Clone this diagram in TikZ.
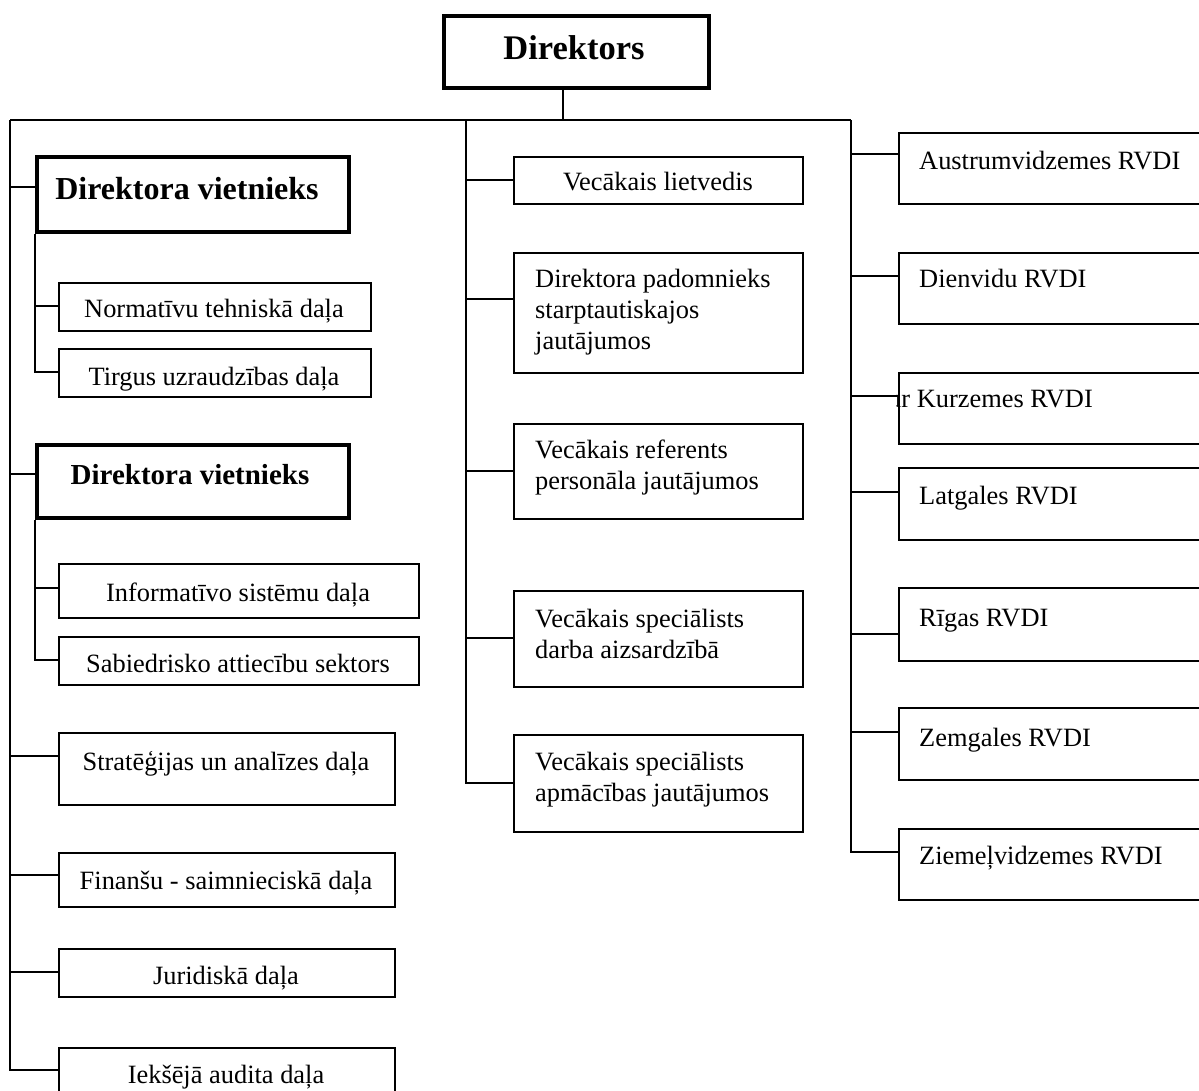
\documentclass[tikz,border=0pt]{standalone}
\usepackage{fontspec}
\setmainfont{Liberation Serif}
\begin{document}
\begin{tikzpicture}[x=1pt,y=-1pt,
  box/.style={draw, rectangle, line width=2pt, inner sep=0pt, anchor=north west},
  thickbox/.style={draw, rectangle, line width=3.5pt, inner sep=0pt, anchor=north west},
  conn/.style={line width=2pt},
  txt/.style={inner sep=0pt, font=\fontsize{26.4pt}{31pt}\selectfont},
  mtxt/.style={txt, align=left, anchor=base west},
  ctxt/.style={txt, anchor=base},
]
\useasboundingbox (0,0) rectangle (1199,1090);
\clip (0,0) rectangle (1199,1090);

% bus coordinates
\coordinate (L) at (10,120);
\coordinate (M) at (466,120);
\coordinate (R) at (851,120);

% Director
\node[thickbox, minimum width=265pt, minimum height=72pt] (dir) at (442,14) {};
\node[txt, anchor=base, font=\fontsize{34.5pt}{40pt}\selectfont\bfseries] (dir-t) at (574,59) {Direktors};
\draw[conn] (dir.south -| 563,0) -- (563,120);
\draw[conn] (L) -- (R);

% ---------- left column ----------
\node[thickbox, minimum width=312pt, minimum height=75pt] (dv1) at (35,155) {};
\node[txt, anchor=base, font=\fontsize{32pt}{38pt}\selectfont\bfseries] (dv1-t) at (187,199) {Direktora vietnieks};
\node[box, minimum width=312pt, minimum height=48pt] (norm) at (58,282) {};
\node[ctxt] (norm-t) at (214,317) {Normatīvu tehniskā daļa};
\node[box, minimum width=312pt, minimum height=48pt] (tirg) at (58,348) {};
\node[ctxt] (tirg-t) at (214,385) {Tirgus uzraudzības daļa};

\node[thickbox, minimum width=312pt, minimum height=73pt] (dv2) at (35,443) {};
\node[txt, anchor=base, font=\fontsize{29pt}{34pt}\selectfont\bfseries] (dv2-t) at (190,484) {Direktora vietnieks};
\node[box, minimum width=360pt, minimum height=54pt] (info) at (58,563) {};
\node[ctxt] (info-t) at (238,601) {Informatīvo sistēmu daļa};
\node[box, minimum width=360pt, minimum height=48pt] (sab) at (58,636) {};
\node[ctxt] (sab-t) at (238,672) {Sabiedrisko attiecību sektors};

\node[box, minimum width=336pt, minimum height=72pt] (strat) at (58,732) {};
\node[ctxt] (strat-t) at (226,770) {Stratēģijas un analīzes daļa};
\node[box, minimum width=336pt, minimum height=54pt] (fin) at (58,852) {};
\node[ctxt] (fin-t) at (226,889) {Finanšu - saimnieciskā daļa};
\node[box, minimum width=336pt, minimum height=48pt] (jur) at (58,948) {};
\node[ctxt] (jur-t) at (226,984) {Juridiskā daļa};
\node[box, minimum width=336pt, minimum height=80pt] (iek) at (58,1047) {};
\node[ctxt] (iek-t) at (226,1083) {Iekšējā audita daļa};

% left connectors
\draw[conn] (L) -- (L |- 0,1070) -- (iek.west |- 0,1070);
\draw[conn] (L |- 0,187) -- (dv1.west |- 0,187);
\draw[conn] (L |- 0,474) -- (dv2.west |- 0,474);
\draw[conn] (L |- 0,756) -- (strat.west |- 0,756);
\draw[conn] (L |- 0,875) -- (fin.west |- 0,875);
\draw[conn] (L |- 0,972) -- (jur.west |- 0,972);
\draw[conn] (dv1.south west) -- (35,372) -- (tirg.west |- 0,372);
\draw[conn] (35,306) -- (norm.west |- 0,306);
\draw[conn] (dv2.south west) -- (35,660) -- (sab.west |- 0,660);
\draw[conn] (35,588) -- (info.west |- 0,588);

% ---------- middle column ----------
\node[box, minimum width=289pt, minimum height=47pt] (lietv) at (513,156) {};
\node[ctxt] (lietv-t) at (658,190) {Vecākais lietvedis};
\node[box, minimum width=289pt, minimum height=120pt] (pad) at (513,252) {};
\node[mtxt] (pad-t) at (535,349) {Direktora padomnieks\\starptautiskajos\\jautājumos};
\node[box, minimum width=289pt, minimum height=95pt] (ref) at (513,423) {};
\node[mtxt] (ref-t) at (535,489) {Vecākais referents\\personāla jautājumos};
\node[box, minimum width=289pt, minimum height=96pt] (spec1) at (513,590) {};
\node[mtxt] (spec1-t) at (535,658) {Vecākais speciālists\\darba aizsardzībā};
\node[box, minimum width=289pt, minimum height=97pt] (spec2) at (513,734) {};
\node[mtxt] (spec2-t) at (535,801) {Vecākais speciālists\\apmācības jautājumos};

\draw[conn] (M) -- (M |- 0,783) -- (spec2.west |- 0,783);
\draw[conn] (M |- 0,180) -- (lietv.west |- 0,180);
\draw[conn] (M |- 0,299) -- (pad.west |- 0,299);
\draw[conn] (M |- 0,471) -- (ref.west |- 0,471);
\draw[conn] (M |- 0,638) -- (spec1.west |- 0,638);

% ---------- right column ----------
\node[box, minimum width=340pt, minimum height=71pt] (aus) at (898,132) {};
\node[txt, anchor=base west] (aus-t) at (919,169) {Austrumvidzemes RVDI};
\node[box, minimum width=340pt, minimum height=71pt] (dien) at (898,252) {};
\node[txt, anchor=base west] (dien-t) at (919,287) {Dienvidu RVDI};
\node[box, minimum width=340pt, minimum height=71pt] (kurz) at (898,372) {};
\begin{scope}
  \clip (896,360) rectangle (1199,450);
  \node[txt, anchor=base west] (kurz-t) at (888,407) {ur Kurzemes RVDI};
\end{scope}
\node[box, minimum width=340pt, minimum height=72pt] (latg) at (898,467) {};
\node[txt, anchor=base west] (latg-t) at (919,504) {Latgales RVDI};
\node[box, minimum width=340pt, minimum height=73pt] (rig) at (898,587) {};
\node[txt, anchor=base west] (rig-t) at (919,626) {Rīgas RVDI};
\node[box, minimum width=340pt, minimum height=72pt] (zem) at (898,707) {};
\node[txt, anchor=base west] (zem-t) at (919,746) {Zemgales RVDI};
\node[box, minimum width=340pt, minimum height=71pt] (ziem) at (898,828) {};
\node[txt, anchor=base west] (ziem-t) at (919,864) {Ziemeļvidzemes RVDI};

\draw[conn] (R) -- (R |- 0,852) -- (ziem.west |- 0,852);
\draw[conn] (R |- 0,154) -- (aus.west |- 0,154);
\draw[conn] (R |- 0,276) -- (dien.west |- 0,276);
\draw[conn] (R |- 0,396) -- (kurz.west |- 0,396);
\draw[conn] (R |- 0,492) -- (latg.west |- 0,492);
\draw[conn] (R |- 0,634) -- (rig.west |- 0,634);
\draw[conn] (R |- 0,732) -- (zem.west |- 0,732);
\end{tikzpicture}
\end{document}
